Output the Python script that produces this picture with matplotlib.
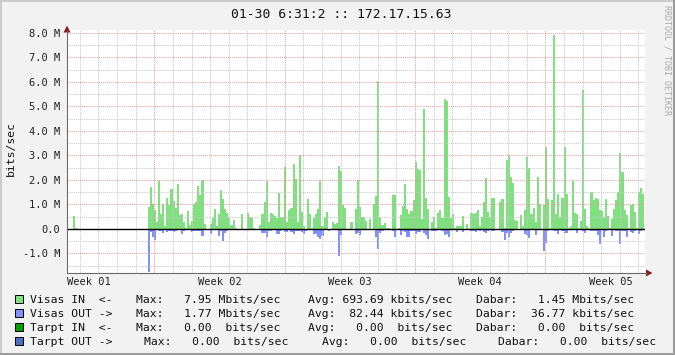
import numpy as np
import matplotlib
matplotlib.use("Agg")
import matplotlib.pyplot as plt
from matplotlib.transforms import Affine2D
from matplotlib.patches import Rectangle, Polygon
from matplotlib.lines import Line2D

# ---------------- data ----------------
title = "01-30 6:31:2 :: 172.17.15.63"
y_label = "bits/sec"
watermark = "RRDTOOL / TOBI OETIKER"

graph_days = 31.04          # span of the time axis in days
first_week_start = 4.69     # first Monday 00:00, days after graph start
week_labels = ["Week 01", "Week 02", "Week 03", "Week 04", "Week 05"]

ytick_values = [-1.0, 0.0, 1.0, 2.0, 3.0, 4.0, 5.0, 6.0, 7.0, 8.0]
ytick_labels = ["-1.0 M", "0.0", "1.0 M", "2.0 M", "3.0 M", "4.0 M",
                "5.0 M", "6.0 M", "7.0 M", "8.0 M"]

step_days = 1 / 9           # sample interval (days)
early_start = 3 / 9         # isolated early samples
early_in = [0.53, 0.05]
data_start = 39 / 9         # start of continuous samples

# Visas IN, Mbit/s
in_a = [0.90, 1.71, 1.00, 0.78, 0.30, 1.96, 0.60, 1.00, 0.10, 1.27, 0.98, 1.63, 1.15, 0.87, 1.84,
        0.57, 0.60, 0.30, 0.05, 0.73, 0.16, 0.33, 1.00, 1.10, 1.75, 1.38, 1.98, 0.20, 0.00, 0.00,
        0.20, 0.43, 0.83, 0.10, 0.60, 1.60, 1.22, 0.83, 0.64, 0.46, 0.16, 0.35, 0.03, 0.00, 0.00,
        0.60, 0.00, 0.00, 0.64, 0.50, 0.46, 0.03, 0.00, 0.00, 0.16, 0.62, 1.10, 1.96, 0.30]
in_b = [0.64, 0.60, 0.53, 0.46, 1.48, 0.50, 0.50, 2.53, 0.30, 0.78, 0.86, 2.67, 2.03, 0.30, 3.00,
        0.68, 0.10, 0.00, 1.24, 0.60, 0.05, 0.45, 0.60, 0.80, 1.95, 0.10, 0.50, 0.68, 0.00, 0.00,
        0.30, 0.20, 0.25, 2.58, 2.38, 0.98, 0.87, 0.00, 0.00, 0.30, 0.00, 0.80, 2.00, 0.91, 0.50,
        0.50, 0.33, 0.00, 0.40, 0.00, 1.00, 1.35, 6.04, 0.50, 0.16, 0.26, 0.03, 0.03, 0.00, 1.38,
        1.38]
in_c = [0.00, 0.03, 0.57, 0.94, 1.84, 0.82, 0.60, 0.73, 1.20, 2.75, 2.45, 2.40, 0.40, 4.90, 1.28,
        0.82, 0.00, 0.30, 0.50, 0.03, 0.67, 0.78, 0.46, 5.30, 5.22, 1.30, 0.43, 0.61, 0.05, 0.12,
        0.12, 0.12, 0.53, 0.00, 0.20, 0.00, 0.65, 0.60, 0.67, 0.78, 0.12, 0.50, 1.10, 2.07, 0.70,
        0.48, 1.27, 1.27, 0.00, 0.00, 1.10, 1.22, 0.03, 2.80, 3.02, 2.12, 1.89, 0.37, 0.34, 0.00,
        0.57, 0.10]
in_d = [0.78, 2.94, 2.48, 0.60, 0.86, 0.30, 2.12, 1.00, 0.00, 0.98, 3.35, 1.22, 0.05, 1.18, 7.92,
        0.60, 1.43, 0.50, 1.27, 3.35, 1.43, 0.03, 0.10, 1.97, 0.65, 0.60, 0.05, 0.33, 5.69, 0.80,
        0.10, 0.05, 1.50, 1.20, 1.27, 1.22, 0.78, 0.75, 0.50, 1.22, 0.53, 0.05, 0.40, 0.82, 1.20,
        1.50, 3.10, 2.33, 0.78, 0.57, 0.04, 0.98, 1.00, 0.71, 0.04, 1.50, 1.67, 1.43]

# Visas OUT, Mbit/s (drawn downward)
out_a = [1.77, 0.14, 0.31, 0.45, 0.05, 0.07, 0.10, 0.18, 0.04, 0.14, 0.07, 0.07, 0.14, 0.08, 0.05,
         0.05, 0.19, 0.10, 0.00, 0.03, 0.04, 0.14, 0.07, 0.07, 0.07, 0.07, 0.27, 0.00, 0.00, 0.00,
         0.19, 0.03, 0.03, 0.00, 0.27, 0.08, 0.50, 0.18, 0.10, 0.03, 0.03, 0.03, 0.00, 0.00, 0.00,
         0.00, 0.00, 0.00, 0.02, 0.03, 0.02, 0.00, 0.00, 0.00, 0.02, 0.18, 0.18, 0.35, 0.07]
out_b = [0.08, 0.05, 0.05, 0.19, 0.19, 0.10, 0.02, 0.14, 0.14, 0.02, 0.14, 0.19, 0.08, 0.08, 0.08,
         0.14, 0.19, 0.08, 0.06, 0.06, 0.06, 0.19, 0.19, 0.35, 0.43, 0.27, 0.03, 0.04, 0.07, 0.00,
         0.02, 0.02, 0.03, 1.09, 0.25, 0.02, 0.00, 0.00, 0.00, 0.00, 0.00, 0.22, 0.15, 0.25, 0.03,
         0.00, 0.00, 0.00, 0.00, 0.00, 0.03, 0.34, 0.83, 0.16, 0.10, 0.00, 0.00, 0.00, 0.00, 0.10,
         0.33]
out_c = [0.00, 0.00, 0.25, 0.08, 0.14, 0.33, 0.31, 0.10, 0.08, 0.22, 0.14, 0.14, 0.05, 0.18, 0.25,
         0.40, 0.00, 0.10, 0.10, 0.10, 0.06, 0.04, 0.07, 0.25, 0.20, 0.31, 0.03, 0.05, 0.00, 0.14,
         0.00, 0.00, 0.14, 0.00, 0.00, 0.00, 0.08, 0.10, 0.14, 0.05, 0.08, 0.06, 0.14, 0.16, 0.10,
         0.00, 0.07, 0.07, 0.00, 0.00, 0.00, 0.14, 0.45, 0.16, 0.35, 0.18, 0.10, 0.05, 0.00, 0.00,
         0.03, 0.00]
out_d = [0.22, 0.25, 0.38, 0.05, 0.06, 0.25, 0.03, 0.03, 0.02, 0.90, 0.58, 0.08, 0.00, 0.00, 0.10,
         0.08, 0.19, 0.05, 0.10, 0.16, 0.16, 0.03, 0.05, 0.00, 0.06, 0.18, 0.00, 0.00, 0.10, 0.16,
         0.00, 0.00, 0.07, 0.07, 0.07, 0.25, 0.60, 0.05, 0.33, 0.10, 0.00, 0.00, 0.27, 0.04, 0.10,
         0.10, 0.60, 0.10, 0.07, 0.35, 0.00, 0.14, 0.18, 0.07, 0.00, 0.19, 0.10, 0.02]

legend_names = ["Visas IN  <-", "Visas OUT ->", "Tarpt IN  <-", "Tarpt OUT ->"]
legend_colors = ["#80e080", "#8090ff", "#00a000", "#5070c8"]
legend_max = ["  7.95 Mbits/sec", "  1.77 Mbits/sec", "  0.00  bits/sec", "  0.00  bits/sec"]
legend_avg = ["693.69 kbits/sec", " 82.44 kbits/sec", "  0.00  bits/sec", "  0.00  bits/sec"]
legend_cur = ["  1.45 Mbits/sec", " 36.77 kbits/sec", "  0.00  bits/sec", "  0.00  bits/sec"]

# ---------------- drawing ----------------
W, H = 675, 355
MONO = "DejaVu Sans Mono"
plt.rcParams["font.family"] = [MONO, "DejaVu Sans"]

fig = plt.figure(figsize=(W / 100, H / 100), dpi=100, facecolor="#f2f2f2")
px = Affine2D().scale(1 / W, -1 / H).translate(0, 1) + fig.transFigure

L, R, T, B = 67, 645, 30, 273
ax = fig.add_axes([L / W, (H - B) / H, (R - L) / W, (B - T) / H])
ax.set_facecolor("white")
for s in ax.spines.values():
    s.set_visible(False)

ymin = -1.8
ymax = 8.0 + 3 / 24.5
ax.set_xlim(0, graph_days)
ax.set_ylim(ymin, ymax)

vin = np.array(in_a + in_b + in_c + in_d)
vout = np.array(out_a + out_b + out_c + out_d)
edges = data_start + step_days * np.arange(len(vin) + 1)
ax.stairs(vin, edges, baseline=0, fill=True, color=legend_colors[0], lw=0, zorder=1)
ax.stairs(-vout, edges, baseline=0, fill=True, color=legend_colors[1], lw=0, zorder=1)
early_edges = early_start + step_days * np.arange(len(early_in) + 1)
ax.stairs(np.array(early_in), early_edges, baseline=0, fill=True,
          color=legend_colors[0], lw=0, zorder=1)

# grid: weeks major (red), days minor (gray)
weeks = np.arange(first_week_start, graph_days, 7.0)
days = np.arange(first_week_start - 7, graph_days, 1.0)
days = days[days > 0]
ax.set_xticks(weeks)
ax.set_xticks(days, minor=True)
ax.set_yticks(ytick_values)
ax.set_yticks(np.arange(-1.5, 8.0, 1.0), minor=True)
ax.set_axisbelow(False)
ax.grid(which="major", color="#e3a0a0", lw=0.75, ls=(0, (1, 1)))
ax.grid(which="minor", color="#c8c8c8", lw=0.75, ls=(0, (1, 1)))
ax.tick_params(axis="both", which="both", length=0)
ax.set_xticklabels([])
ax.set_yticklabels(ytick_labels, fontfamily=MONO, fontsize=7.5, color="#202020")
ax.tick_params(axis="y", pad=4.6)
ax.axhline(0, color="black", lw=1.0, zorder=4)

# week labels centred in each week
for i, lab in enumerate(week_labels):
    xc = first_week_start - 3.5 + 7 * i
    ax.annotate(lab, xy=(xc, 0), xycoords=("data", "axes fraction"),
                xytext=(0, -12 * 0.72), textcoords="offset points",
                ha="center", va="baseline", fontsize=7.5, fontfamily=MONO, color="#202020")

# axis lines + arrows
ax_col = "#6a6a6a"
fig.add_artist(Line2D([L, L], [B, 31], color=ax_col, lw=0.8, transform=px))
fig.add_artist(Line2D([L, 647], [B, B], color=ax_col, lw=0.8, transform=px))
arr_col = "#8b1c1c"
fig.add_artist(Polygon([[L - 3.5, 32.5], [L + 3.5, 32.5], [L, 25.5]], closed=True,
                       color=arr_col, lw=0, transform=px))
fig.add_artist(Polygon([[646, B - 3.5], [646, B + 3.5], [652.5, B]], closed=True,
                       color=arr_col, lw=0, transform=px))

# texts
fig.text(341, 18.3, title, transform=px, ha="center", va="baseline",
         fontsize=9.4, fontfamily=MONO, color="#101010")
fig.text(11, 149, y_label, transform=px, ha="center", va="center", rotation=90,
         fontsize=8.2, fontfamily=MONO, color="#101010")
fig.text(667, 60, watermark, transform=px, ha="center", va="center", rotation=270,
         fontsize=6.0, fontfamily=MONO, color="#a8a8a8")

# legend
baselines = [302.7, 316.7, 330.7, 345.0]
cols = [[30.2, 136.5, 307.5, 476.5]] * 3 + [[30.2, 143.5, 322.5, 497.5]]
for r in range(4):
    yb = baselines[r]
    fig.add_artist(Rectangle((15.3, yb - 8), 7.4, 8, facecolor=legend_colors[r],
                             edgecolor="black", lw=0.7, transform=px))
    segs = [legend_names[r], "Max: " + legend_max[r], "Avg: " + legend_avg[r],
            "Dabar: " + legend_cur[r]]
    for x, s in zip(cols[r], segs):
        fig.text(x, yb, s, transform=px, ha="left", va="baseline", fontsize=8.2,
                 fontfamily=MONO, color="#101010")

# frame
fig.add_artist(Line2D([0, W], [0.8, 0.8], color="#cbcbcb", lw=1.4, transform=px))
fig.add_artist(Line2D([0.8, 0.8], [0, H], color="#cbcbcb", lw=1.4, transform=px))
fig.add_artist(Line2D([0, W], [H - 0.8, H - 0.8], color="#999999", lw=1.4, transform=px))
fig.add_artist(Line2D([W - 0.8, W - 0.8], [0, H], color="#999999", lw=1.4, transform=px))

fig.savefig("out.png", dpi=100, facecolor=fig.get_facecolor())
